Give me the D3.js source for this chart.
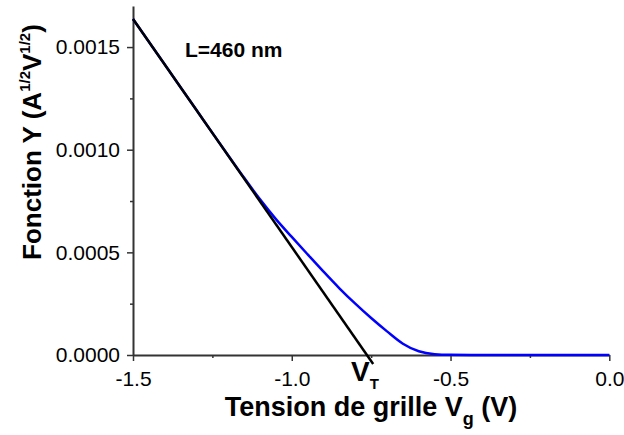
<!DOCTYPE html>
<html>
<head>
<meta charset="utf-8">
<script src="https://cdn.jsdelivr.net/npm/d3@7"></script>
<style>
  body { margin: 0; background: #fff; }
  text { font-family: "Liberation Sans", Arial, sans-serif; }
</style>
</head>
<body>
<script>
// gate voltage (V) and Y function values
const vg = [-1.5, -1.4, -1.3, -1.25, -1.2, -1.15, -1.1, -1.05, -1.0, -0.95, -0.9, -0.85,
            -0.8, -0.75, -0.7, -0.65, -0.6, -0.55, -0.5, -0.4, -0.2, 0.0];
const yFn = [0.001637, 0.001415, 0.001193, 0.001082, 0.000972, 0.000863, 0.000758, 0.000662,
             0.000575, 0.000490, 0.000406, 0.000325, 0.000250, 0.000180, 0.000115, 0.000055,
             0.000018, 0.000004, 0.000001, 0, 0, 0];
// linear extrapolation giving V_T
const fitV = [-1.5, -0.7436];
const fitY = [0.001637, -0.0000438];

const xMajor = [-1.5, -1.0, -0.5, 0.0];
const xMinor = [-1.25, -0.75, -0.25];
const yMajor = [0, 0.0005, 0.0010, 0.0015];
const yMinor = [0.00025, 0.00075, 0.00125];

const W = 624, H = 435;
const svg = d3.select("body").append("svg").attr("width", W).attr("height", H);

const x = d3.scaleLinear().domain([-1.5, 0]).range([133, 609.3]);
const y = d3.scaleLinear().domain([0, 0.0017]).range([355, 6]);

const axisCol = "#333";
const fmtX = function(d) { return d3.format(".1f")(d).replace("\u2212", "-"); };

// x axis
const gx = svg.append("g").attr("transform", "translate(0," + y(0) + ")");
gx.call(d3.axisBottom(x).tickValues(xMajor).tickSize(6).tickSizeOuter(0).tickFormat(fmtX));
gx.append("g").call(d3.axisBottom(x).tickValues(xMinor).tickSize(3).tickFormat(""))
  .select(".domain").remove();

// y axis
const gy = svg.append("g").attr("transform", "translate(" + x(-1.5) + ",0)");
gy.call(d3.axisLeft(y).tickValues(yMajor).tickSize(6).tickSizeOuter(0).tickFormat(d3.format(".4f")));
gy.append("g").call(d3.axisLeft(y).tickValues(yMinor).tickSize(3).tickFormat(""))
  .select(".domain").remove();

svg.selectAll(".domain").attr("stroke", axisCol).attr("stroke-width", 2);
svg.selectAll(".tick line").attr("stroke", axisCol).attr("stroke-width", 1.5);
gx.selectAll(".tick text").attr("font-size", 21).attr("fill", "#000").attr("dy", "1.05em")
  .style("font-family", "Liberation Sans, Arial, sans-serif");
gy.selectAll(".tick text").attr("font-size", 21).attr("fill", "#000").attr("x", -13)
  .style("font-family", "Liberation Sans, Arial, sans-serif");

// curves
const line = d3.line().x(function(d) { return x(d[0]); }).y(function(d) { return y(d[1]); });

svg.append("path")
  .datum(d3.zip(vg, yFn))
  .attr("d", line.curve(d3.curveMonotoneX))
  .attr("fill", "none").attr("stroke", "#0000ff").attr("stroke-width", 2.5);

svg.append("path")
  .datum(d3.zip(fitV, fitY))
  .attr("d", line.curve(d3.curveLinear))
  .attr("fill", "none").attr("stroke", "#000").attr("stroke-width", 2.5);

// annotations
svg.append("text").attr("x", 185).attr("y", 57)
  .attr("font-size", 21).attr("font-weight", "bold").text("L=460 nm");

const vt = svg.append("text").attr("x", 351).attr("y", 381)
  .attr("font-size", 28).attr("font-weight", "bold");
vt.append("tspan").text("V");
vt.append("tspan").attr("font-size", 15).attr("dy", 8).text("T");

// axis titles
const xt = svg.append("text").attr("x", 371).attr("y", 416).attr("text-anchor", "middle")
  .attr("font-size", 27).attr("font-weight", "bold");
xt.append("tspan").text("Tension de grille V");
xt.append("tspan").attr("font-size", 18).attr("dy", 9).text("g");
xt.append("tspan").attr("dy", -9).text(" (V)");

const yt = svg.append("text")
  .attr("transform", "translate(41,142) rotate(-90)")
  .attr("text-anchor", "middle").attr("font-size", 26).attr("font-weight", "bold");
yt.append("tspan").text("Fonction Y (A");
yt.append("tspan").attr("font-size", 15).attr("dy", -11).text("1/2");
yt.append("tspan").attr("dy", 11).text("V");
yt.append("tspan").attr("font-size", 15).attr("dy", -11).text("1/2");
yt.append("tspan").attr("dy", 11).text(")");
</script>
</body>
</html>
